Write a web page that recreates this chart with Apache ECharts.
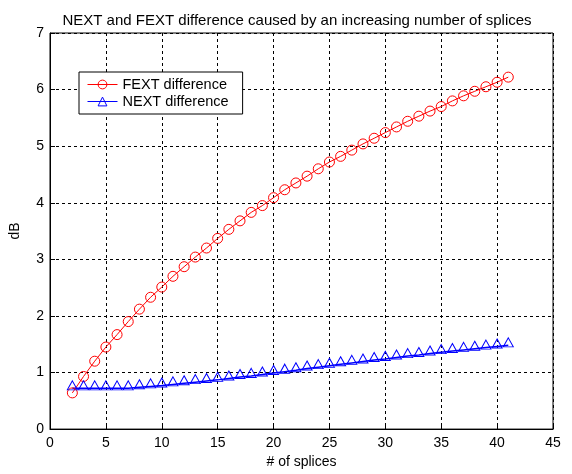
<!DOCTYPE html>
<html>
<head>
<meta charset="utf-8">
<script src="https://cdn.jsdelivr.net/npm/echarts@6/dist/echarts.min.js"></script>
<style>
  html, body { margin: 0; padding: 0; background: #fff; }
  #chart { width: 572px; height: 474px; }
</style>
</head>
<body>
<div id="chart"></div>
<script>
// number of splices on the x axis
var splices = [2, 3, 4, 5, 6, 7, 8, 9, 10, 11, 12, 13, 14, 15, 16, 17, 18, 19, 20, 21,
               22, 23, 24, 25, 26, 27, 28, 29, 30, 31, 32, 33, 34, 35, 36, 37, 38, 39, 40, 41];
// FEXT difference (dB)
var fext = [0.64, 0.93, 1.20, 1.45, 1.67, 1.90, 2.12, 2.33, 2.51, 2.70, 2.87, 3.04, 3.20, 3.37, 3.53, 3.68, 3.83, 3.95, 4.09, 4.23,
            4.35, 4.47, 4.60, 4.72, 4.82, 4.93, 5.04, 5.14, 5.24, 5.34, 5.44, 5.53, 5.62, 5.70, 5.80, 5.89, 5.97, 6.05, 6.13, 6.22];
// NEXT difference (dB)
var next = [0.72, 0.72, 0.72, 0.72, 0.72, 0.72, 0.74, 0.755, 0.77, 0.79, 0.81, 0.83, 0.85, 0.87, 0.895, 0.92, 0.94, 0.965, 0.99, 1.015,
            1.04, 1.07, 1.095, 1.12, 1.145, 1.17, 1.195, 1.22, 1.24, 1.265, 1.29, 1.31, 1.335, 1.36, 1.38, 1.40, 1.42, 1.44, 1.46, 1.48];
var xTicks = [0, 45, 5];   // min, max, interval
var yTicks = [0, 7, 1];

function pairs(ys) {
  return splices.map(function (x, i) { return [x, ys[i]]; });
}

var font = 'Liberation Sans, Arial, sans-serif';
var myChart = echarts.init(document.getElementById('chart'));

var option = {
  backgroundColor: '#fff',
  animation: false,
  title: {
    text: 'NEXT and FEXT difference caused by an increasing number of splices',
    left: 292,
    textAlign: 'center',
    top: 8,
    textStyle: { fontFamily: font, fontSize: 15, fontWeight: 'normal', color: '#000' }
  },
  legend: {
    orient: 'vertical',
    left: 79,
    top: 72,
    padding: [5, 14, 5, 8],
    itemGap: 2,
    itemWidth: 30,
    itemHeight: 11,
    borderColor: '#000',
    borderWidth: 1,
    backgroundColor: '#fff',
    lineStyle: { width: 1 },
    itemStyle: { borderWidth: 1 },
    textStyle: { fontFamily: font, fontSize: 14.5, color: '#000' },
    data: ['FEXT difference', 'NEXT difference']
  },
  grid: {
    left: 48, right: 19, top: 33, bottom: 41,
    show: true,
    borderColor: '#000',
    borderWidth: 1
  },
  xAxis: {
    type: 'value',
    min: xTicks[0], max: xTicks[1], interval: xTicks[2],
    name: '# of splices',
    nameLocation: 'middle',
    nameGap: 24,
    nameTextStyle: { fontFamily: font, fontSize: 14, color: '#000', verticalAlign: 'top' },
    axisLine: { lineStyle: { color: '#000' } },
    axisTick: { inside: true, length: 5, lineStyle: { color: '#000' } },
    axisLabel: { fontFamily: font, fontSize: 14, color: '#000', margin: 7 },
    splitLine: { show: true, lineStyle: { color: '#000', type: [3, 3] } }
  },
  yAxis: {
    type: 'value',
    min: yTicks[0], max: yTicks[1], interval: yTicks[2],
    name: 'dB',
    nameLocation: 'middle',
    nameGap: 28,
    nameTextStyle: { fontFamily: font, fontSize: 14, color: '#000' },
    axisLine: { show: true, lineStyle: { color: '#000' } },
    axisTick: { show: true, inside: true, length: 5, lineStyle: { color: '#000' } },
    axisLabel: { fontFamily: font, fontSize: 14, color: '#000', margin: 6 },
    splitLine: { show: true, lineStyle: { color: '#000', type: [3, 3] } }
  },
  series: [
    {
      name: 'FEXT difference',
      type: 'line',
      data: pairs(fext),
      symbol: 'circle',
      symbolSize: 10,
      showAllSymbol: true,
      lineStyle: { color: '#ff0000', width: 1 },
      itemStyle: { color: 'transparent', borderColor: '#ff0000', borderWidth: 1 }
    },
    {
      name: 'NEXT difference',
      type: 'line',
      data: pairs(next),
      symbol: 'triangle',
      symbolSize: [10, 9],
      symbolOffset: [0, -3],
      showAllSymbol: true,
      lineStyle: { color: '#0000ff', width: 1.5 },
      itemStyle: { color: 'transparent', borderColor: '#0000ff', borderWidth: 1 }
    }
  ]
};

myChart.setOption(option);
</script>
</body>
</html>
